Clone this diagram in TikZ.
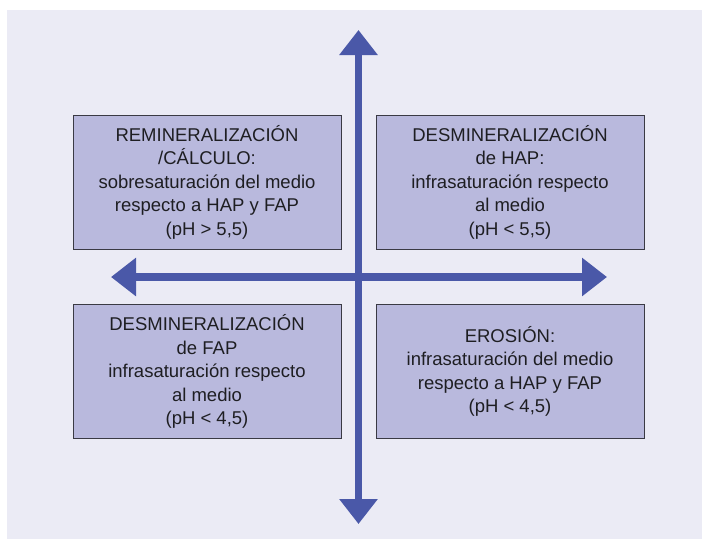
\documentclass[tikz,border=0pt]{standalone}
\usepackage{fontspec}
\setmainfont{Liberation Sans}
\usetikzlibrary{arrows.meta}

\definecolor{panelbg}{HTML}{EBEBF5}
\definecolor{boxfill}{HTML}{B9B9DD}
\definecolor{boxline}{HTML}{3A3A44}
\definecolor{axisblue}{HTML}{4A58A8}
\definecolor{textcol}{HTML}{1E1E22}

\tikzset{
  quadbox/.style={draw=boxline, fill=boxfill, line width=0.9pt,
    minimum width=268pt, minimum height=134pt, inner sep=0pt,
    align=center, text=textcol,
    font=\fontsize{18.5}{23.5}\selectfont},
  axis/.style={draw=axisblue, line width=7.5pt,
    {Triangle[length=25pt,width=37pt,fill=axisblue]}-{Triangle[length=25pt,width=37pt,fill=axisblue]}}
}

\begin{document}
\begin{tikzpicture}[x=1pt,y=-1pt]
  \useasboundingbox (0,0) rectangle (702,539);
  \fill[white] (0,0) rectangle (702,539);
  \fill[panelbg] (7,10) rectangle (702,539);

  % quadrants
  \node[quadbox] (remin) at (207,182)
    {REMINERALIZACIÓN\\/CÁLCULO:\\sobresaturación del medio\\respecto a HAP y FAP\\(pH > 5,5)};
  \node[quadbox] (desHAP) at (510,182)
    {DESMINERALIZACIÓN\\de HAP:\\infrasaturación respecto\\al medio\\(pH < 5,5)};
  \node[quadbox] (desFAP) at (207,371.5)
    {DESMINERALIZACIÓN\\de FAP\\infrasaturación respecto\\al medio\\(pH < 4,5)};
  \node[quadbox] (erosion) at (510,371.5)
    {EROSIÓN:\\infrasaturación del medio\\respecto a HAP y FAP\\(pH < 4,5)};

  % axes
  \coordinate (ytop) at (358.5,30);
  \coordinate (ybot) at (358.5,524);
  \coordinate (xleft) at (111,277);
  \coordinate (xright) at (607,277);
  \draw[axis] (xleft) -- (xright);
  \draw[axis] (ytop) -- (ybot);
\end{tikzpicture}
\end{document}
